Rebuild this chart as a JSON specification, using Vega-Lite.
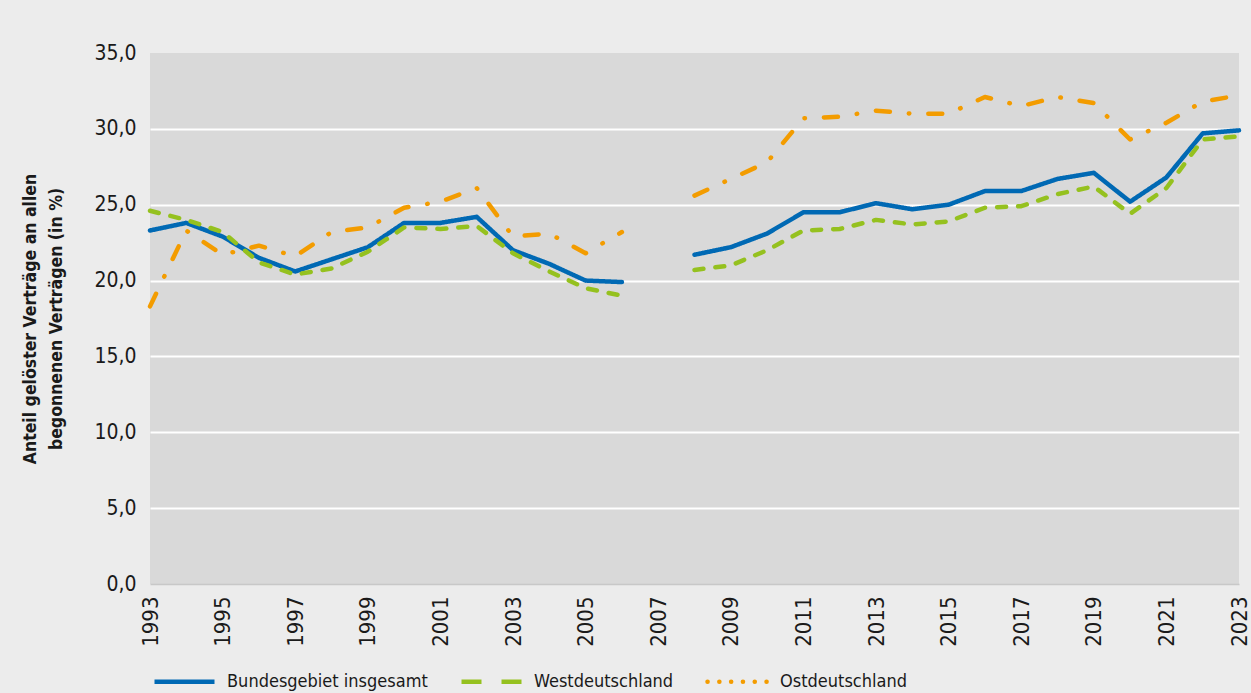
{
  "$schema": "https://vega.github.io/schema/vega-lite/v6.json",
  "width": 1089,
  "height": 531,
  "autosize": {"type": "none"},
  "padding": {"left": 150, "top": 53, "right": 12, "bottom": 109},
  "background": "#ececec",
  "config": {
    "view": {"fill": "#d9d9d9", "stroke": null},
    "font": "Liberation Sans Narrow, DejaVu Sans Condensed, sans-serif"
  },
  "data": {
    "values": [
      {"year": 1993, "series": "Bundesgebiet insgesamt", "value": 23.3},
      {"year": 1994, "series": "Bundesgebiet insgesamt", "value": 23.8},
      {"year": 1995, "series": "Bundesgebiet insgesamt", "value": 22.9},
      {"year": 1996, "series": "Bundesgebiet insgesamt", "value": 21.5},
      {"year": 1997, "series": "Bundesgebiet insgesamt", "value": 20.6},
      {"year": 1998, "series": "Bundesgebiet insgesamt", "value": 21.4},
      {"year": 1999, "series": "Bundesgebiet insgesamt", "value": 22.2},
      {"year": 2000, "series": "Bundesgebiet insgesamt", "value": 23.8},
      {"year": 2001, "series": "Bundesgebiet insgesamt", "value": 23.8},
      {"year": 2002, "series": "Bundesgebiet insgesamt", "value": 24.2},
      {"year": 2003, "series": "Bundesgebiet insgesamt", "value": 22.0},
      {"year": 2004, "series": "Bundesgebiet insgesamt", "value": 21.1},
      {"year": 2005, "series": "Bundesgebiet insgesamt", "value": 20.0},
      {"year": 2006, "series": "Bundesgebiet insgesamt", "value": 19.9},
      {"year": 2007, "series": "Bundesgebiet insgesamt", "value": null},
      {"year": 2008, "series": "Bundesgebiet insgesamt", "value": 21.7},
      {"year": 2009, "series": "Bundesgebiet insgesamt", "value": 22.2},
      {"year": 2010, "series": "Bundesgebiet insgesamt", "value": 23.1},
      {"year": 2011, "series": "Bundesgebiet insgesamt", "value": 24.5},
      {"year": 2012, "series": "Bundesgebiet insgesamt", "value": 24.5},
      {"year": 2013, "series": "Bundesgebiet insgesamt", "value": 25.1},
      {"year": 2014, "series": "Bundesgebiet insgesamt", "value": 24.7},
      {"year": 2015, "series": "Bundesgebiet insgesamt", "value": 25.0},
      {"year": 2016, "series": "Bundesgebiet insgesamt", "value": 25.9},
      {"year": 2017, "series": "Bundesgebiet insgesamt", "value": 25.9},
      {"year": 2018, "series": "Bundesgebiet insgesamt", "value": 26.7},
      {"year": 2019, "series": "Bundesgebiet insgesamt", "value": 27.1},
      {"year": 2020, "series": "Bundesgebiet insgesamt", "value": 25.2},
      {"year": 2021, "series": "Bundesgebiet insgesamt", "value": 26.8},
      {"year": 2022, "series": "Bundesgebiet insgesamt", "value": 29.7},
      {"year": 2023, "series": "Bundesgebiet insgesamt", "value": 29.9},
      {"year": 1993, "series": "Westdeutschland", "value": 24.6},
      {"year": 1994, "series": "Westdeutschland", "value": 24.0},
      {"year": 1995, "series": "Westdeutschland", "value": 23.2},
      {"year": 1996, "series": "Westdeutschland", "value": 21.2},
      {"year": 1997, "series": "Westdeutschland", "value": 20.4},
      {"year": 1998, "series": "Westdeutschland", "value": 20.8},
      {"year": 1999, "series": "Westdeutschland", "value": 21.9},
      {"year": 2000, "series": "Westdeutschland", "value": 23.5},
      {"year": 2001, "series": "Westdeutschland", "value": 23.4},
      {"year": 2002, "series": "Westdeutschland", "value": 23.6},
      {"year": 2003, "series": "Westdeutschland", "value": 21.8},
      {"year": 2004, "series": "Westdeutschland", "value": 20.6},
      {"year": 2005, "series": "Westdeutschland", "value": 19.5},
      {"year": 2006, "series": "Westdeutschland", "value": 19.0},
      {"year": 2007, "series": "Westdeutschland", "value": null},
      {"year": 2008, "series": "Westdeutschland", "value": 20.7},
      {"year": 2009, "series": "Westdeutschland", "value": 21.0},
      {"year": 2010, "series": "Westdeutschland", "value": 22.0},
      {"year": 2011, "series": "Westdeutschland", "value": 23.3},
      {"year": 2012, "series": "Westdeutschland", "value": 23.4},
      {"year": 2013, "series": "Westdeutschland", "value": 24.0},
      {"year": 2014, "series": "Westdeutschland", "value": 23.7},
      {"year": 2015, "series": "Westdeutschland", "value": 23.9},
      {"year": 2016, "series": "Westdeutschland", "value": 24.8},
      {"year": 2017, "series": "Westdeutschland", "value": 24.9},
      {"year": 2018, "series": "Westdeutschland", "value": 25.7},
      {"year": 2019, "series": "Westdeutschland", "value": 26.2},
      {"year": 2020, "series": "Westdeutschland", "value": 24.4},
      {"year": 2021, "series": "Westdeutschland", "value": 26.1},
      {"year": 2022, "series": "Westdeutschland", "value": 29.3},
      {"year": 2023, "series": "Westdeutschland", "value": 29.5},
      {"year": 1993, "series": "Ostdeutschland", "value": 18.3},
      {"year": 1994, "series": "Ostdeutschland", "value": 23.3},
      {"year": 1995, "series": "Ostdeutschland", "value": 21.7},
      {"year": 1996, "series": "Ostdeutschland", "value": 22.3},
      {"year": 1997, "series": "Ostdeutschland", "value": 21.6},
      {"year": 1998, "series": "Ostdeutschland", "value": 23.2},
      {"year": 1999, "series": "Ostdeutschland", "value": 23.5},
      {"year": 2000, "series": "Ostdeutschland", "value": 24.8},
      {"year": 2001, "series": "Ostdeutschland", "value": 25.2},
      {"year": 2002, "series": "Ostdeutschland", "value": 26.1},
      {"year": 2003, "series": "Ostdeutschland", "value": 22.9},
      {"year": 2004, "series": "Ostdeutschland", "value": 23.1},
      {"year": 2005, "series": "Ostdeutschland", "value": 21.8},
      {"year": 2006, "series": "Ostdeutschland", "value": 23.2},
      {"year": 2007, "series": "Ostdeutschland", "value": null},
      {"year": 2008, "series": "Ostdeutschland", "value": 25.6},
      {"year": 2009, "series": "Ostdeutschland", "value": 26.7},
      {"year": 2010, "series": "Ostdeutschland", "value": 27.8},
      {"year": 2011, "series": "Ostdeutschland", "value": 30.7},
      {"year": 2012, "series": "Ostdeutschland", "value": 30.8},
      {"year": 2013, "series": "Ostdeutschland", "value": 31.2},
      {"year": 2014, "series": "Ostdeutschland", "value": 31.0},
      {"year": 2015, "series": "Ostdeutschland", "value": 31.0},
      {"year": 2016, "series": "Ostdeutschland", "value": 32.1},
      {"year": 2017, "series": "Ostdeutschland", "value": 31.5},
      {"year": 2018, "series": "Ostdeutschland", "value": 32.1},
      {"year": 2019, "series": "Ostdeutschland", "value": 31.7},
      {"year": 2020, "series": "Ostdeutschland", "value": 29.3},
      {"year": 2021, "series": "Ostdeutschland", "value": 30.4},
      {"year": 2022, "series": "Ostdeutschland", "value": 31.8},
      {"year": 2023, "series": "Ostdeutschland", "value": 32.2}
    ]
  },
  "mark": {
    "type": "line",
    "strokeWidth": 4.5,
    "strokeCap": "round",
    "strokeJoin": "round",
    "invalid": "break-paths-show-domains"
  },
  "encoding": {
    "x": {
      "field": "year",
      "type": "quantitative",
      "scale": {"domain": [1993, 2023], "nice": false, "zero": false},
      "axis": {
        "title": null,
        "values": [1993, 1995, 1997, 1999, 2001, 2003, 2005, 2007, 2009, 2011, 2013, 2015, 2017, 2019, 2021, 2023],
        "format": "d",
        "labelAngle": -90,
        "labelFontSize": 22,
        "labelColor": "#1a1a1a",
        "labelPadding": 12,
        "labelFlush": false,
        "labelOverlap": false,
        "ticks": false,
        "grid": false,
        "domain": true,
        "domainColor": "#c8c8c8",
        "domainWidth": 1.5
      }
    },
    "y": {
      "field": "value",
      "type": "quantitative",
      "scale": {"domain": [0, 35], "nice": false},
      "axis": {
        "title": ["Anteil gelöster Verträge an allen", "begonnenen Verträgen (in %)"],
        "titleFontSize": 17.5,
        "titleFontWeight": "bold",
        "titleColor": "#1a1a1a",
        "titleLineHeight": 26,
        "titlePadding": 28,
        "values": [0, 5, 10, 15, 20, 25, 30, 35],
        "labelExpr": "replace(format(datum.value, '.1f'), '.', ',')",
        "labelFontSize": 21,
        "labelColor": "#1a1a1a",
        "labelPadding": 14,
        "ticks": false,
        "domain": false,
        "grid": true,
        "gridWidth": 2,
        "gridColor": {"condition": {"test": "datum.value == 0 || datum.value == 35", "value": "rgba(0,0,0,0)"}, "value": "#ffffff"}
      }
    },
    "color": {
      "field": "series",
      "type": "nominal",
      "scale": {
        "domain": ["Bundesgebiet insgesamt", "Westdeutschland", "Ostdeutschland"],
        "range": ["#0069b4", "#95c11f", "#f39c00"]
      },
      "legend": {
        "title": null,
        "orient": "none",
        "direction": "horizontal",
        "legendX": 2,
        "legendY": 596,
        "symbolType": "stroke",
        "symbolSize": 3600,
        "symbolStrokeWidth": 4.5,
        "labelFontSize": 18,
        "labelColor": "#1a1a1a",
        "labelOffset": 10,
        "columnPadding": 24,
        "labelLimit": 400,
        "encode": {
          "symbols": {
            "update": {
              "strokeDash": {"signal": "datum.value == 'Ostdeutschland' ? [0.1, 11.7] : datum.value == 'Westdeutschland' ? [20, 20] : [1, 0]"},
              "strokeCap": {"signal": "datum.value == 'Ostdeutschland' ? 'round' : 'butt'"}
            }
          }
        }
      }
    },
    "strokeDash": {
      "condition": [
        {"test": "datum.series == 'Westdeutschland'", "value": [9, 12]},
        {"test": "datum.series == 'Ostdeutschland'", "value": [14, 19, 0.5, 19]}
      ],
      "value": [1, 0]
    },
    "detail": {"field": "series", "type": "nominal"}
  }
}
